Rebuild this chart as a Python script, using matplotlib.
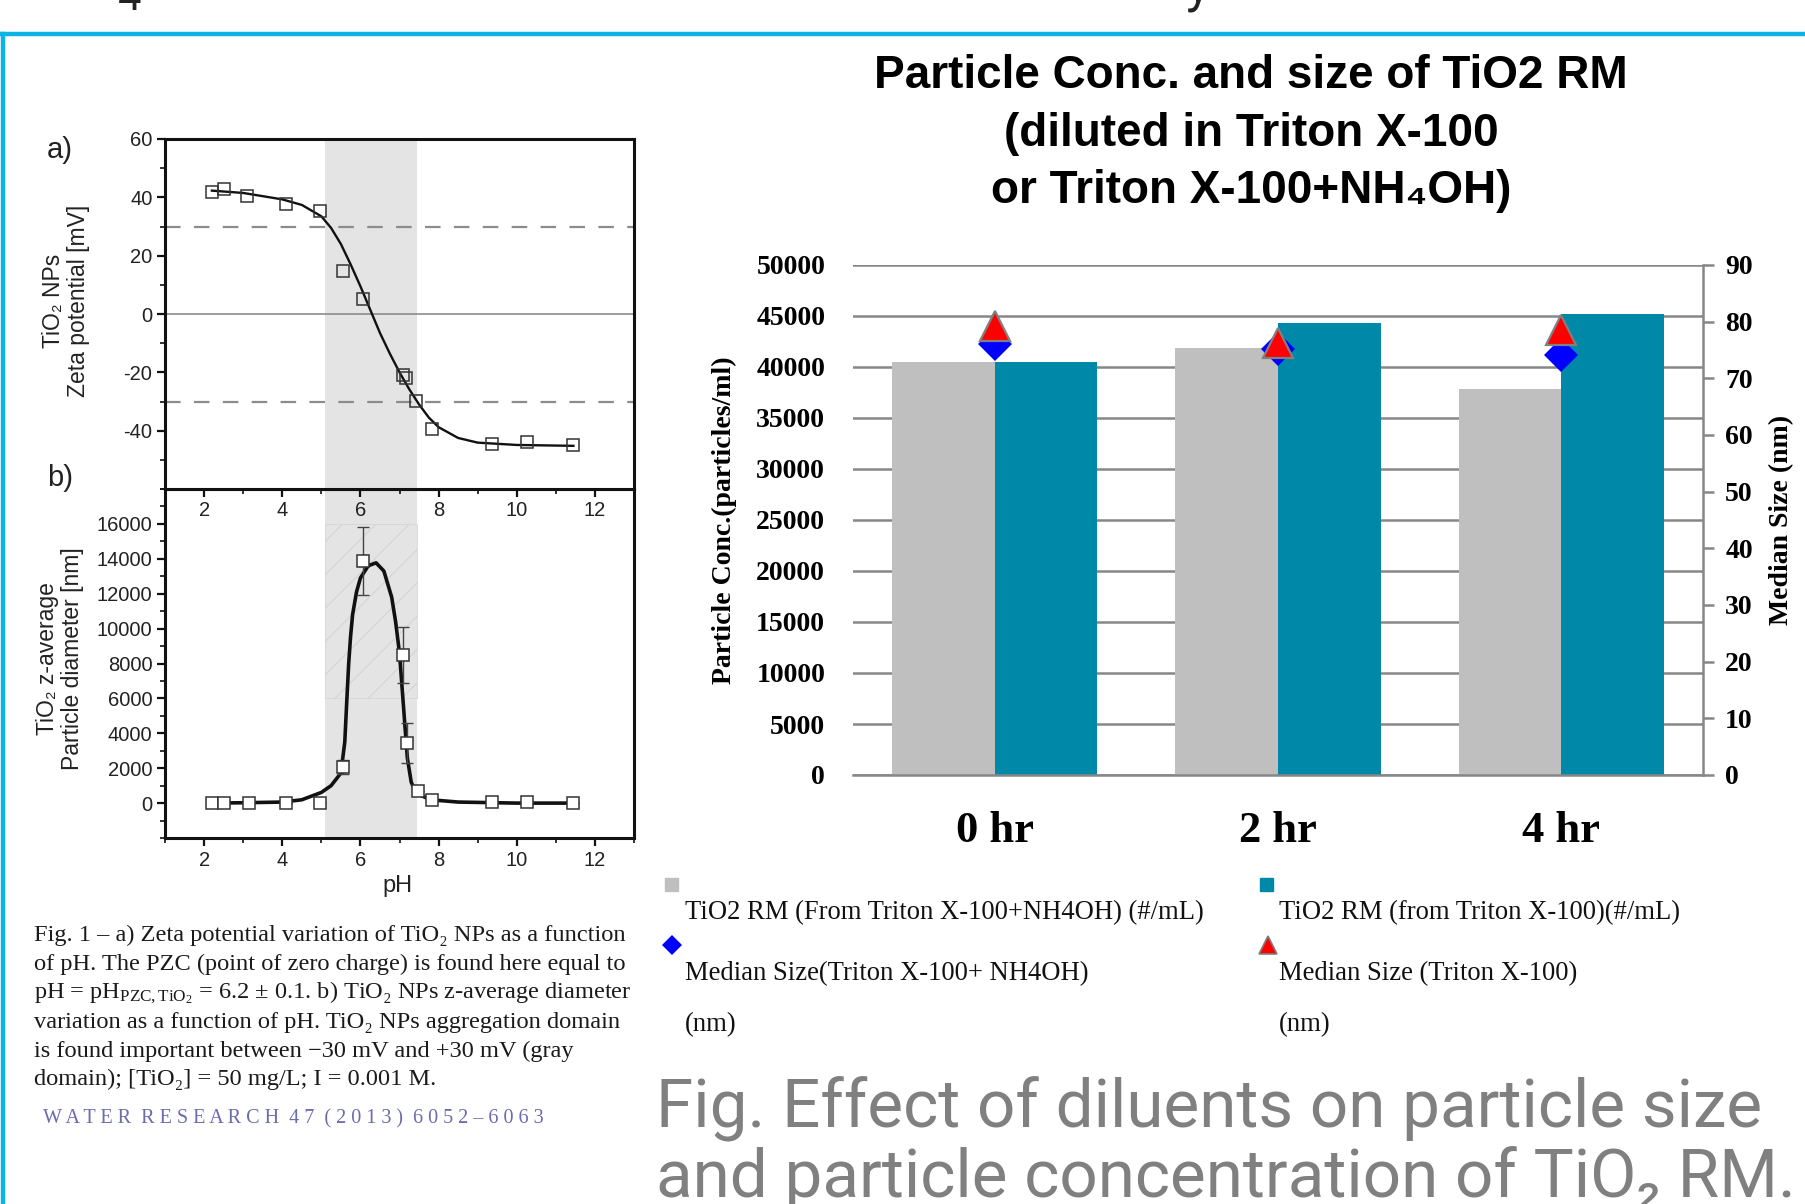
import numpy as np
import matplotlib
matplotlib.use("Agg")
import matplotlib.pyplot as plt
from matplotlib.lines import Line2D
from matplotlib.patches import Rectangle
from matplotlib.ticker import MultipleLocator

plt.rcParams['mathtext.fontset'] = 'custom'
plt.rcParams['mathtext.rm'] = 'Liberation Serif'
plt.rcParams['mathtext.it'] = 'Liberation Serif:italic'
plt.rcParams['mathtext.bf'] = 'Liberation Serif:bold'
plt.rcParams['axes.unicode_minus'] = False

W, H = 1805, 1204

# panel a) zeta potential vs pH (measured points + fitted curve read off the figure)
ph_a = [2.2, 2.5, 3.1, 4.1, 4.97, 5.55, 6.06, 7.08, 7.17, 7.43, 7.82, 9.36, 10.25, 11.44]
zeta = [41.9, 42.8, 40.4, 37.7, 35.3, 14.7, 5.0, -21.0, -22.0, -29.8, -39.5, -44.4, -43.8, -44.9]
fit_ph_a = [2.2, 3.0, 4.0, 4.5, 5.0, 5.25, 5.5, 5.75, 6.0, 6.25, 6.5, 6.75, 7.0, 7.25,
            7.5, 7.75, 8.0, 8.5, 9.0, 10.0, 11.45]
fit_zeta = [42.3, 41.5, 39.3, 37.4, 33.5, 29.5, 24.0, 17.0, 9.5, 1.5, -6.5, -13.5, -20.0,
            -25.8, -31.0, -35.5, -38.8, -42.5, -44.1, -44.9, -45.2]

# panel b) z-average diameter vs pH
ph_b = [2.2, 2.5, 3.14, 4.1, 4.97, 5.55, 6.07, 7.09, 7.18, 7.47, 7.83, 9.36, 10.25, 11.44]
dia = [0, 0, 0, 0, 0, 2050, 13870, 8470, 3440, 670, 150, 40, 40, 0]
dia_err = [0, 0, 0, 0, 0, 400, 1950, 1600, 1150, 0, 0, 0, 0, 0]
fit_ph_b = [2.2, 3.0, 4.0, 4.5, 5.0, 5.25, 5.5, 5.6, 5.65, 5.7, 5.75, 5.8, 5.9, 6.0, 6.2,
            6.4, 6.6, 6.8, 6.9, 7.0, 7.1, 7.2, 7.3, 7.4, 7.5, 7.8, 8.5, 10.0, 11.45]
fit_dia = [0, 20, 60, 190, 610, 1000, 1720, 3500, 5800, 8000, 9600, 10800, 12100, 12900,
           13600, 13770, 13300, 11800, 10400, 8600, 5600, 2600, 1200, 700, 480, 190, 60, 0, 0]
agg_ph = (5.1, 7.45)

# right chart
hours = ['0 hr', '2 hr', '4 hr']
conc_nh4oh = [40500, 41900, 37800]
conc_triton = [40500, 44300, 45200]
size_nh4oh = [76.1, 75.1, 74.1]
size_triton = [79.3, 76.3, 78.6]

caption = [
    "Fig. 1 \u2013 a) Zeta potential variation of TiO\u2082 NPs as a function",
    "of pH. The PZC (point of zero charge) is found here equal to",
    r"pH = pH$_{\mathrm{PZC,TiO_2}}$" + " = 6.2 \u00b1 0.1. b) TiO\u2082 NPs z-average diameter",
    "variation as a function of pH. TiO\u2082 NPs aggregation domain",
    "is found important between \u221230 mV and +30 mV (gray",
    "domain); [TiO\u2082] = 50 mg/L; I = 0.001 M.",
]

NARROW = ['Liberation Sans Narrow', 'Liberation Sans', 'DejaVu Sans']
SERIF = ['Liberation Serif', 'DejaVu Serif']
SANS = ['Roboto', 'DejaVu Sans']


def fx(px):
    return px / W


def fy(py):
    return 1 - py / H


fig = plt.figure(figsize=(W / 100, H / 100), dpi=100)
fig.patch.set_facecolor('white')

# slide frame
cyan = '#0BB4E4'
fig.add_artist(Line2D([0, 1], [fy(34), fy(34)], transform=fig.transFigure, color=cyan, lw=3.2))
fig.add_artist(Line2D([fx(3), fx(3)], [fy(34), 0], transform=fig.transFigure, color=cyan, lw=3.2))
fig.text(fx(118), fy(10), '4', family=SANS, fontsize=30, va='baseline', color='#222')
fig.text(fx(1185), fy(0), 'y', family=SANS, fontsize=38, va='baseline', color='#222')

# ---------- left figure a)
span_col = '#E4E4E4'
ax_a = fig.add_axes([fx(165), fy(489), (634 - 165) / W, (489 - 139) / H])
ax_a.set_zorder(3)
ax_a.axvspan(*agg_ph, color=span_col, lw=0, zorder=0)
ax_a.axhline(0, color='#8C8C8C', lw=1.2, zorder=1)
for v in (30, -30):
    ax_a.axhline(v, color='#8C8C8C', lw=1.6, dashes=(7, 6), zorder=1)
ax_a.plot(fit_ph_a, fit_zeta, color='#111111', lw=1.7, zorder=2)
ax_a.plot(ph_a, zeta, 's', ms=8, mfc='none', mec='#333333', mew=1.1, zorder=3)
ax_a.set_xlim(1, 13)
ax_a.set_ylim(-60, 60)
ax_a.set_yticks([-40, -20, 0, 20, 40, 60])
ax_a.yaxis.set_minor_locator(MultipleLocator(10))
ax_a.xaxis.set_major_locator(MultipleLocator(2))
ax_a.xaxis.set_minor_locator(MultipleLocator(1))

# ---------- left figure b)
ax_b = fig.add_axes([fx(165), fy(838), (634 - 165) / W, (838 - 489) / H])
ax_b.axvspan(*agg_ph, color=span_col, lw=0, zorder=0)
ax_b.add_patch(Rectangle((agg_ph[0], 6000), agg_ph[1] - agg_ph[0], 10000, fill=False,
                         hatch='/', ec='#D6D6D6', lw=0.6, zorder=0.5))
ax_b.plot(fit_ph_b, fit_dia, color='#111111', lw=2.6, zorder=2)
ax_b.errorbar(ph_b, dia, yerr=dia_err, fmt='none', ecolor='#444444', elinewidth=1.0,
              capsize=4, zorder=2.5)
ax_b.plot(ph_b, dia, 's', ms=8, mfc='white', mec='#333333', mew=1.1, zorder=3)
ax_b.set_xlim(1, 13)
ax_b.set_ylim(-2000, 18000)
ax_b.set_yticks(range(0, 16001, 2000))
ax_b.yaxis.set_minor_locator(MultipleLocator(1000))
ax_b.xaxis.set_major_locator(MultipleLocator(2))
ax_b.xaxis.set_minor_locator(MultipleLocator(1))

for ax in (ax_a, ax_b):
    for s in ax.spines.values():
        s.set_linewidth(2.2)
        s.set_color('#111111')
    ax.tick_params(which='major', direction='out', length=6, width=1.6, color='#111111',
                   labelsize=14.5, pad=3, labelcolor='#222222')
    ax.tick_params(which='minor', direction='out', length=3.5, width=1.2, color='#111111')
    for lab in ax.get_xticklabels() + ax.get_yticklabels():
        lab.set_family(NARROW)

fig.text(fx(66), fy(301), 'TiO\u2082 NPs\nZeta potential [mV]', rotation=90, ha='center',
         va='center', family=NARROW, fontsize=16.5, color='#222222', linespacing=1.15,
         multialignment='center')
fig.text(fx(60), fy(659), 'TiO\u2082 z-average\nParticle diameter [nm]', rotation=90,
         ha='center', va='center', family=NARROW, fontsize=16.5, color='#222222',
         linespacing=1.15, multialignment='center')
fig.text(fx(398), fy(886), 'pH', ha='center', va='center', family=NARROW, fontsize=17,
         color='#222222')
fig.text(fx(60), fy(150), 'a)', ha='center', va='center', family=NARROW, fontsize=21,
         color='#222222')
fig.text(fx(60), fy(478), 'b)', ha='center', va='center', family=NARROW, fontsize=21,
         color='#222222')

for i, line in enumerate(caption):
    fig.text(fx(34), fy(941 + 28.9 * i), line, family=SERIF, fontsize=17.6, va='baseline',
             color='#1A1A1A')
fig.text(fx(43), fy(1123), 'W A T E R  R E S E A R C H  4 7  ( 2 0 1 3 )  6 0 5 2 \u2013 6 0 6 3',
         family=SERIF, fontsize=14.5, va='baseline', color='#6B6BAF')

# ---------- right chart
title_lines = ['Particle Conc. and size of TiO2 RM', '(diluted in Triton X-100',
               'or Triton X-100+NH\u2084OH)']
for i, t in enumerate(title_lines):
    fig.text(fx(1251), fy(76 + 57.6 * i), t, ha='center', va='center', family=NARROW,
             fontsize=33, weight='bold', color='black')

ax = fig.add_axes([fx(853), fy(775), (1703 - 853) / W, (775 - 265) / H])
x = np.arange(len(hours))
w = 0.362
ax.bar(x - w / 2, conc_nh4oh, w, color='#BFBFBF', zorder=2)
ax.bar(x + w / 2, conc_triton, w, color='#0088A8', zorder=2)
ax.set_xlim(-0.5, 2.5)
ax.set_ylim(0, 50000)
ax.set_yticks(range(0, 50001, 5000))
ax.yaxis.grid(True, color='#878787', lw=1.8)
ax.set_axisbelow(True)
for s in ('left', 'top', 'right'):
    ax.spines[s].set_visible(False)
ax.spines['bottom'].set_color('#878787')
ax.spines['bottom'].set_linewidth(1.8)
ax.set_xticks(x)
ax.set_xticklabels(hours)
ax.tick_params(axis='y', length=0, pad=20, labelsize=20)
ax.tick_params(axis='x', length=0, pad=26, labelsize=32)
for lab in ax.get_xticklabels() + ax.get_yticklabels():
    lab.set_family(SERIF)
    lab.set_weight('bold')
ax.set_ylabel('Particle Conc.(particles/ml)', family=SERIF, weight='bold', fontsize=20,
              labelpad=14)

ax2 = ax.twinx()
ax2.set_ylim(0, 90)
ax2.set_yticks(range(0, 91, 10))
for s in ('left', 'top', 'bottom'):
    ax2.spines[s].set_visible(False)
ax2.spines['right'].set_color('#878787')
ax2.spines['right'].set_linewidth(1.8)
ax2.tick_params(axis='y', direction='out', length=8, width=1.8, color='#878787', pad=8,
                labelsize=20)
for lab in ax2.get_yticklabels():
    lab.set_family(SERIF)
    lab.set_weight('bold')
ax2.plot(x, size_nh4oh, 'D', color='#0000FF', ms=17, mew=0, ls='none')
ax2.plot(x, size_triton, '^', mfc='#FF0000', mec='#808080', mew=1.6, ms=22, ls='none')
ax2.set_ylabel('Median Size (nm)', family=SERIF, weight='bold', fontsize=20, labelpad=12)

# legend (Excel style: marker above the entry text)
fig.add_artist(Rectangle((fx(665), fy(891)), 13 / W, 13 / H, transform=fig.transFigure,
                         color='#BFBFBF'))
fig.add_artist(Rectangle((fx(1260), fy(891)), 13 / W, 13 / H, transform=fig.transFigure,
                         color='#0088A8'))
fig.add_artist(Line2D([fx(672)], [fy(945)], transform=fig.transFigure, marker='D',
                      color='#0000FF', ms=10, mew=0, ls='none'))
fig.add_artist(Line2D([fx(1268)], [fy(945)], transform=fig.transFigure, marker='^',
                      mfc='#FF0000', mec='#808080', mew=1.2, ms=13, ls='none'))
leg_kw = dict(family=SERIF, fontsize=19.2, va='baseline', color='#111111')
fig.text(fx(685), fy(919), 'TiO2 RM (From Triton X-100+NH4OH) (#/mL)', **leg_kw)
fig.text(fx(1279), fy(919), 'TiO2 RM (from Triton X-100)(#/mL)', **leg_kw)
fig.text(fx(685), fy(980), 'Median Size(Triton X-100+ NH4OH)', **leg_kw)
fig.text(fx(1279), fy(980), 'Median Size (Triton X-100)', **leg_kw)
fig.text(fx(685), fy(1031), '(nm)', **leg_kw)
fig.text(fx(1279), fy(1031), '(nm)', **leg_kw)

# slide caption
fig.text(fx(656), fy(1127), 'Fig. Effect of diluents on particle size', family=SANS,
         fontsize=48.5, va='baseline', color='#808080')
fig.text(fx(656), fy(1197), 'and particle concentration of TiO\u2082 RM.', family=SANS,
         fontsize=48.5, va='baseline', color='#808080')

fig.savefig('out.png', dpi=100, facecolor='white')
